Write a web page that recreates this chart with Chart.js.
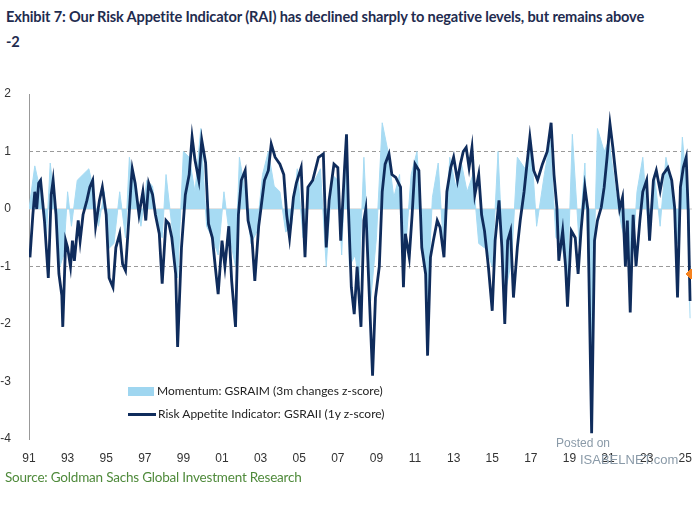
<!DOCTYPE html>
<html><head><meta charset="utf-8">
<script src="https://cdn.jsdelivr.net/npm/chart.js@4"></script>
<style>
body{margin:0;width:700px;height:517px;background:#fff;position:relative;overflow:hidden;font-family:Lato,"Open Sans",sans-serif}
#t{position:absolute;left:6px;top:4px;width:694px;font-weight:bold;font-size:14.6px;line-height:25px;color:#1f2c4f;white-space:nowrap;letter-spacing:-0.15px}
#c{position:absolute;left:0;top:0}
.lg{position:absolute;font-size:12px;color:#222;font-family:Lato,sans-serif}
#src{position:absolute;left:5px;top:469px;font-size:13.5px;color:#4f8a3b;font-family:Lato,sans-serif;letter-spacing:-0.2px}
.wm{position:absolute;color:#8a9aa8;font-family:"Liberation Sans",sans-serif}
</style></head><body>
<div id="t">Exhibit 7: Our Risk Appetite Indicator (RAI) has declined sharply to negative levels, but remains above<br>-2</div>
<canvas id="c" width="700" height="470"></canvas>
<div class="lg" style="left:128px;top:383px;"><span style="display:inline-block;width:26px;height:9px;background:#9fd6f0;vertical-align:middle;margin-right:3px"></span>Momentum: GSRAIM (3m changes z-score)</div>
<div class="lg" style="left:128px;top:406px;"><span style="display:inline-block;width:28px;height:3px;background:#0f2c5c;vertical-align:middle;margin-right:2px"></span>Risk Appetite Indicator: GSRAII (1y z-score)</div>
<div class="wm" style="left:556px;top:436px;font-size:12px">Posted on</div>
<div class="wm" style="left:580px;top:452px;font-size:13px">ISABELNET.com</div>
<div id="src">Source: Goldman Sachs Global Investment Research</div>
<script>
const raiDates=[1991.05,1991.2,1991.3,1991.4,1991.5,1991.6,1991.8,1992.0,1992.15,1992.25,1992.4,1992.55,1992.7,1992.75,1992.9,1993.0,1993.15,1993.25,1993.35,1993.55,1993.65,1993.8,1994.0,1994.15,1994.3,1994.45,1994.65,1994.8,1995.0,1995.15,1995.35,1995.5,1995.7,1995.85,1996.0,1996.1,1996.3,1996.35,1996.5,1996.7,1996.9,1997.05,1997.2,1997.4,1997.55,1997.75,1997.9,1998.1,1998.25,1998.4,1998.6,1998.7,1998.9,1999.1,1999.3,1999.45,1999.6,1999.8,1999.95,2000.15,2000.3,2000.5,2000.65,2000.8,2001.0,2001.15,2001.35,2001.5,2001.7,2001.85,2002.0,2002.2,2002.35,2002.55,2002.7,2002.9,2003.05,2003.2,2003.4,2003.55,2003.75,2004.0,2004.2,2004.35,2004.5,2004.7,2004.85,2005.1,2005.3,2005.45,2005.7,2006.0,2006.25,2006.4,2006.55,2006.8,2007.0,2007.15,2007.35,2007.45,2007.55,2007.7,2007.85,2008.0,2008.2,2008.35,2008.45,2008.6,2008.8,2008.95,2009.15,2009.3,2009.45,2009.65,2009.8,2010.0,2010.25,2010.4,2010.5,2010.7,2010.85,2011.0,2011.2,2011.35,2011.55,2011.65,2011.8,2011.95,2012.15,2012.3,2012.5,2012.65,2012.85,2013.0,2013.2,2013.35,2013.5,2013.65,2013.8,2013.95,2014.1,2014.3,2014.45,2014.6,2014.8,2015.0,2015.15,2015.35,2015.5,2015.65,2015.8,2015.95,2016.1,2016.3,2016.45,2016.65,2016.8,2016.95,2017.15,2017.35,2017.6,2017.85,2018.05,2018.2,2018.35,2018.45,2018.65,2018.8,2018.9,2019.1,2019.3,2019.45,2019.6,2019.8,2019.95,2020.15,2020.3,2020.45,2020.65,2020.8,2020.95,2021.1,2021.25,2021.4,2021.6,2021.75,2021.9,2022.0,2022.15,2022.3,2022.45,2022.65,2022.8,2023.0,2023.15,2023.35,2023.5,2023.7,2023.85,2024.1,2024.3,2024.45,2024.6,2024.75,2024.9,2025.05,2025.15,2025.25];
const raiValues=[-0.84,-0.1,0.3,0,0.45,0.5,-0.2,-1.2,0.25,0.5,-0.1,-1.13,-1.5,-2.05,-0.55,-0.67,-1.0,-0.55,-0.9,-0.2,-0.55,-0.1,0.15,0.38,0.5,-0.3,0.15,0.38,-0.1,-1.2,-1.36,-0.67,-0.43,-0.96,-1.07,-0.55,0.5,0.7,0.45,-0.1,0.3,-0.2,0.45,0.25,-0.1,-0.43,-1.3,-0.2,-0.26,-0.5,-1.13,-2.4,-0.67,0.25,0.6,1.25,0.85,0.5,1.2,0.8,-0.26,-0.5,-1.0,-1.48,-0.55,-1.0,-0.3,-1.25,-2.05,-0.1,0.5,0.67,-0.2,-0.5,-1.25,-0.3,0.1,0.5,0.67,1.13,0.9,0.78,0.6,-0.1,-0.5,0.2,0.45,0.72,-0.84,0.38,0.5,0.9,0.96,-0.67,0.15,0.78,0.72,-0.55,0.72,1.3,0,-1.36,-1.83,-1.0,-2.05,-0.2,0,-1.25,-2.9,-1.54,-1.0,0.3,0.78,0.96,0.6,0.55,0.38,-1.36,-0.43,-0.84,-0.1,0.78,0.67,-0.67,-1.13,-2.55,-0.84,-0.55,-0.2,-0.32,-0.84,0.3,0.72,0.9,0.5,0.78,1.0,1.07,0.72,1.07,0.25,0.6,-0.1,-0.38,-1.0,-1.77,-0.55,0.15,-0.67,-2.0,-0.55,-0.38,-1.54,-0.67,-0.2,0.3,0.78,1.25,0.67,0.5,0.78,1.0,1.5,0.6,0.03,-0.9,-0.38,-1.0,-1.7,-0.38,-0.5,-1.13,-0.38,0.38,0,-3.9,-0.55,-0.2,0.03,0.38,0.9,1.48,1.07,0.6,0,0.2,-1.0,-0.2,-1.8,-0.1,-1.0,-0.2,0.3,0.5,-0.55,0.5,0.67,0.32,0.6,0.72,0.5,0.03,-1.54,0.38,0.72,0.9,0,-1.6];
const momDates=[1991.0,1991.3,1991.6,1991.9,1992.1,1992.3,1992.6,1992.8,1993.0,1993.2,1993.5,1993.8,1994.1,1994.3,1994.6,1994.9,1995.1,1995.4,1995.7,1996.0,1996.2,1996.5,1996.8,1997.1,1997.4,1997.7,1997.9,1998.1,1998.4,1998.7,1999.0,1999.3,1999.6,1999.9,2000.2,2000.5,2000.8,2001.1,2001.4,2001.7,2001.9,2002.2,2002.5,2002.8,2003.1,2003.4,2003.7,2004.0,2004.3,2004.6,2004.9,2005.2,2005.5,2005.8,2006.1,2006.4,2006.7,2007.0,2007.2,2007.45,2007.6,2007.9,2008.1,2008.35,2008.7,2009.0,2009.3,2009.6,2009.9,2010.2,2010.4,2010.8,2011.1,2011.4,2011.65,2011.9,2012.2,2012.5,2012.8,2013.1,2013.4,2013.7,2014.0,2014.3,2014.7,2015.0,2015.3,2015.65,2016.0,2016.3,2016.7,2017.0,2017.3,2017.7,2018.0,2018.3,2018.6,2018.9,2019.15,2019.5,2019.8,2020.15,2020.45,2020.8,2021.05,2021.4,2021.7,2022.0,2022.2,2022.5,2022.8,2023.1,2023.4,2023.7,2024.0,2024.3,2024.6,2024.85,2025.1,2025.25];
const momValues=[0,0.75,0.3,-0.5,0.8,0.2,-1.0,-0.8,0.3,-0.3,0.5,0.6,0.7,0.4,-0.3,0.3,-0.7,-0.6,0.3,-0.5,0.9,0.3,-0.3,0.5,0.4,-0.4,-0.5,0.6,-0.3,-1.2,1.0,0.9,0.3,1.4,-0.3,-0.5,-0.8,0.3,-0.5,-1.0,0.9,0.3,-0.6,-0.4,0.6,1.0,0.4,0.3,-0.4,-0.3,0.7,-0.5,0.4,0.5,0.7,-1.0,0.6,0.5,-0.8,1.2,-1.0,-0.8,-1.3,0.9,-1.6,-0.5,1.5,1.0,0.2,0.6,-1.2,0.6,1.0,-0.5,-1.6,0.2,0.8,-0.8,0.9,0.4,0.8,0.3,0.6,-0.6,-0.7,-1.0,1.0,-1.5,-0.9,0.9,0.7,1.2,-0.3,0.6,1.2,-0.5,-0.6,-1.2,1.3,-0.6,0.8,-2.5,1.4,1.0,1.2,0.3,-0.3,-0.7,-1.2,0.3,0.9,-0.4,0.6,-0.3,0.9,0.4,-0.6,1.25,0.3,-1.9];
const latestDate=[2025.3];
const latestValue=[-1.13];
const yTicks=[2,1,0,-1,-2,-3,-4];

const refLines={id:'ref',beforeDatasetsDraw(ch){const y=ch.scales.y,c=ch.ctx,a=ch.chartArea;c.save();
[1,-1].forEach(v=>{c.strokeStyle='#9a9a9a';c.lineWidth=1;c.setLineDash([4,3]);const p=y.getPixelForValue(v);c.beginPath();c.moveTo(a.left,p);c.lineTo(a.right,p);c.stroke();});
c.setLineDash([]);c.strokeStyle='#c8c8c8';const p0=y.getPixelForValue(0);c.beginPath();c.moveTo(a.left,p0);c.lineTo(a.right,p0);c.stroke();c.restore();}};
new Chart(document.getElementById('c'),{
 type:'line',
 data:{datasets:[
  {label:'latest',type:'scatter',data:latestDate.map((d,i)=>({x:d,y:latestValue[i]})),pointStyle:'rectRot',pointRadius:5,backgroundColor:'#f5821f',borderColor:'#f5821f',order:0},
  {label:'RAI',data:raiDates.map((d,i)=>({x:d,y:raiValues[i]})),borderColor:'#0f2c5c',borderWidth:2.8,pointRadius:0,tension:0,order:1},
  {label:'Mom',data:momDates.map((d,i)=>({x:d,y:momValues[i]})),borderColor:'#a7dbf3',backgroundColor:'#a7dbf3',borderWidth:1,fill:'origin',pointRadius:0,tension:0,order:2}
 ]},
 options:{responsive:false,animation:false,
  layout:{padding:{top:94,right:8,left:0}},
  plugins:{legend:{display:false},tooltip:{enabled:false}},
  scales:{
   x:{type:'linear',min:1991,max:2025.35,
     afterBuildTicks(s){s.ticks=[];for(let v=1991;v<=2025;v+=2)s.ticks.push({value:v});},
     afterFit(s){s.height=31;},
     grid:{display:false},border:{display:false},
     ticks:{color:'#333',font:{size:12,family:'Liberation Sans'},maxRotation:0,autoSkip:false,padding:4,callback:v=>String(v%100).padStart(2,'0')}},
   y:{min:-4,max:2,afterFit(s){s.width=29;},
     afterBuildTicks(s){s.ticks=yTicks.map(v=>({value:v}));},
     grid:{display:false,drawTicks:true},border:{display:true,color:'#999'},
     ticks:{color:'#333',font:{size:12,family:'Liberation Sans'},padding:10}}
  }},
 plugins:[refLines]
});
</script>
</body></html>
